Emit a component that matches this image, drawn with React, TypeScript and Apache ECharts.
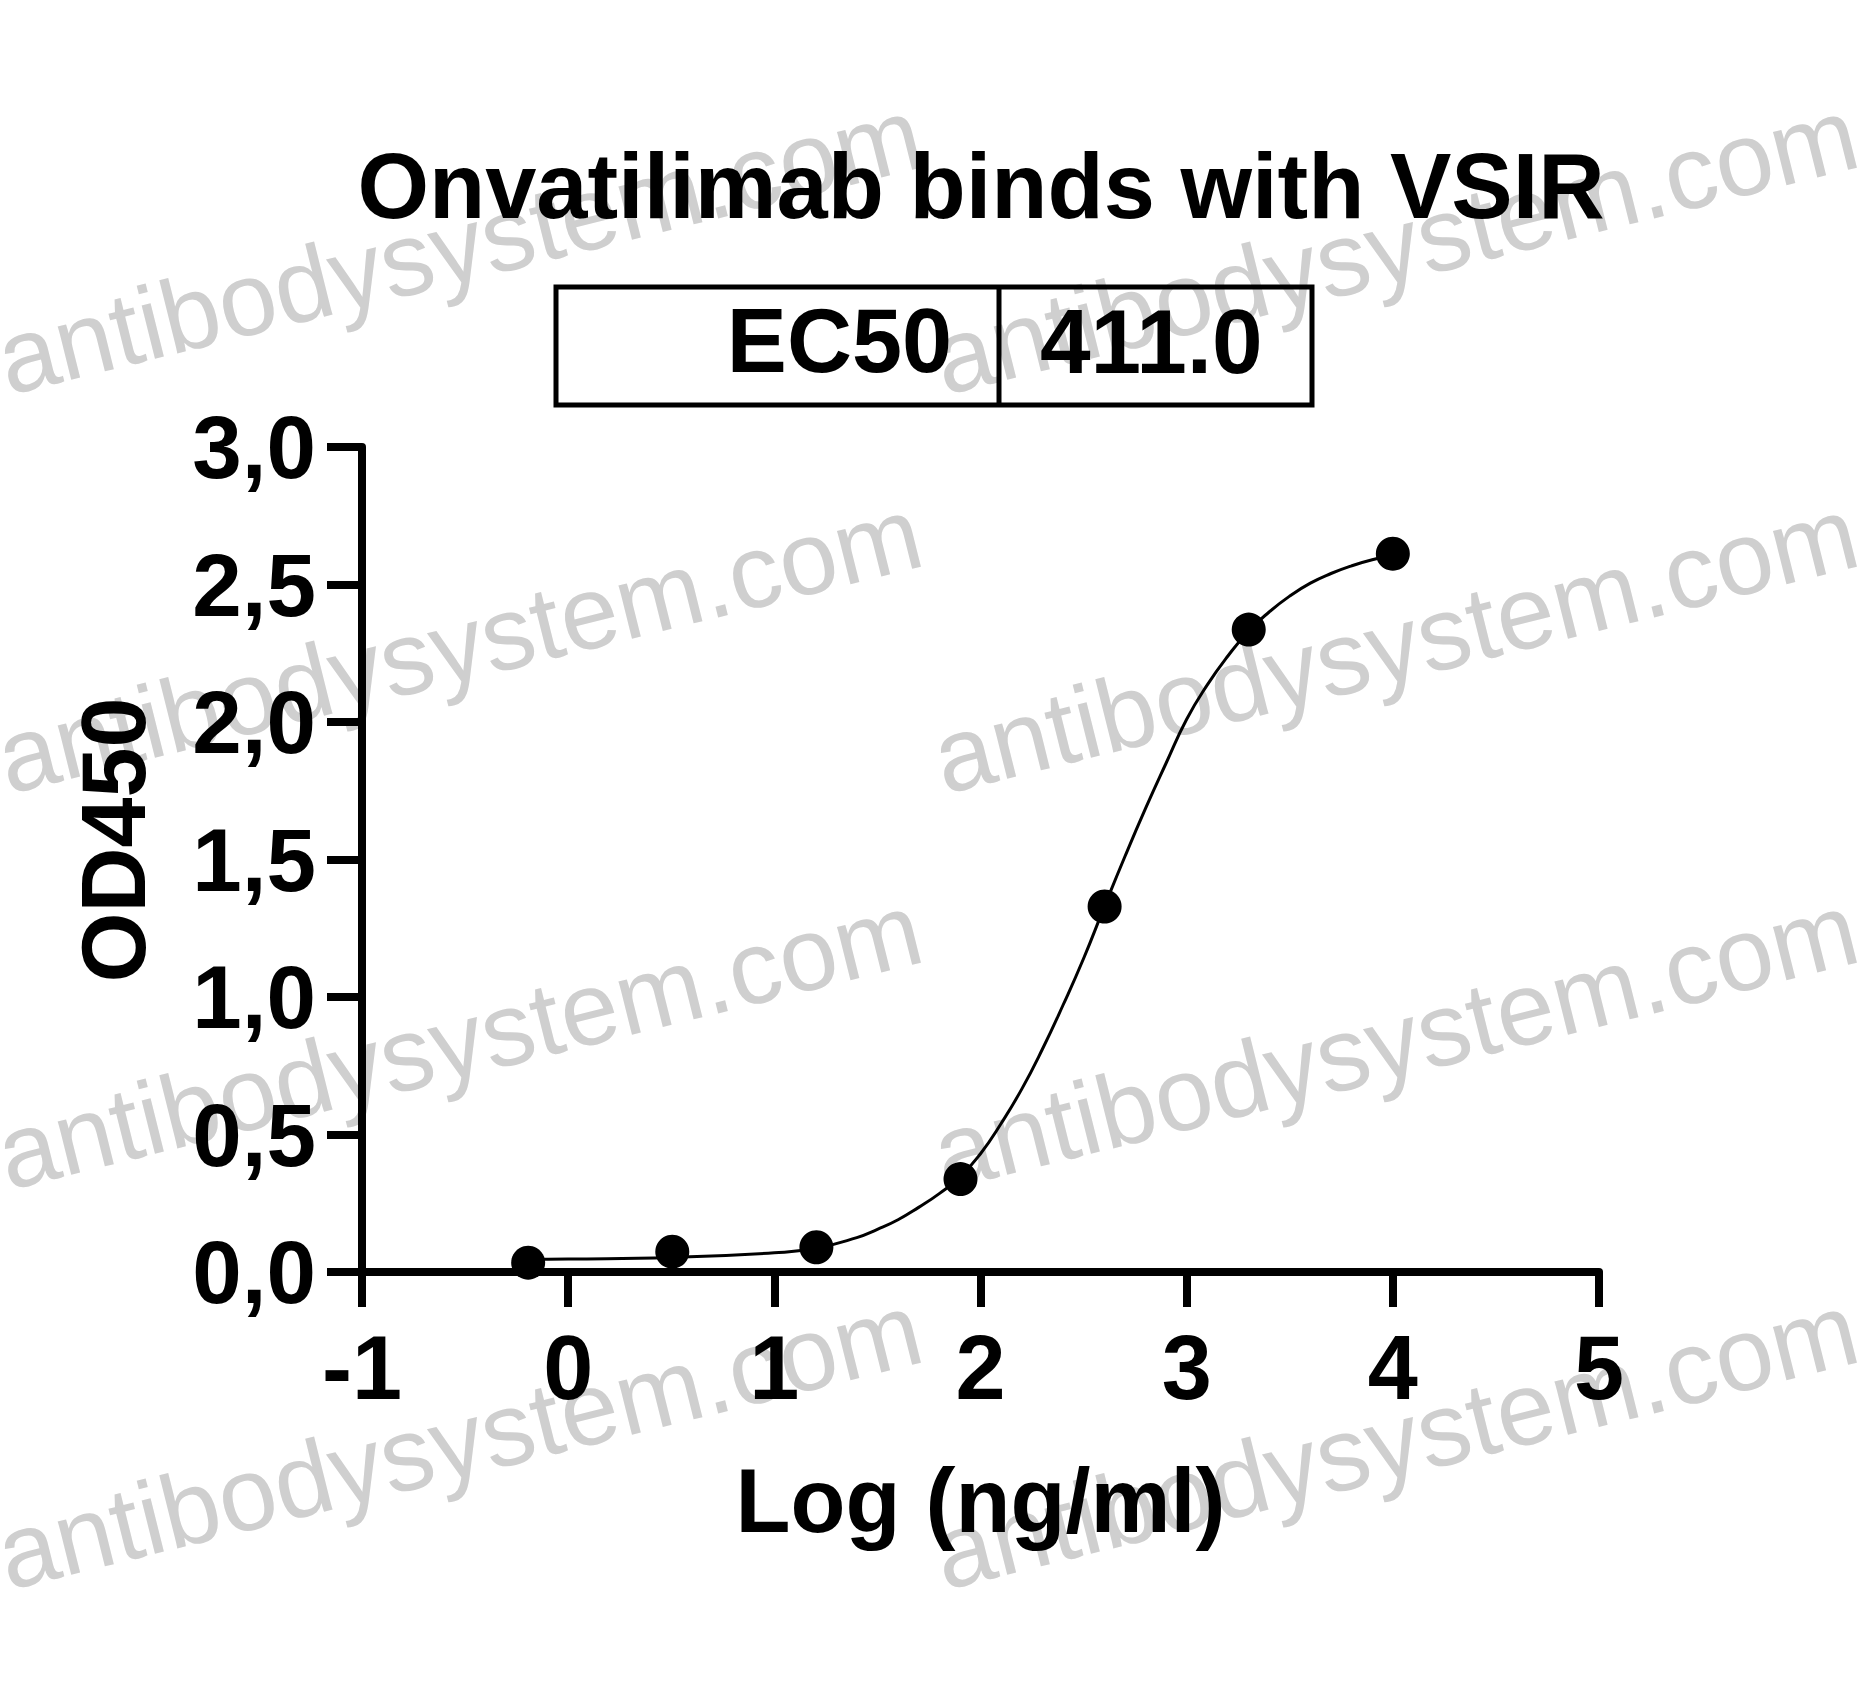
import React, { useEffect, useRef } from "react";
import * as echarts from "echarts";

const chartTitle = "Onvatilimab binds with VSIR";
const xAxisTitle = "Log (ng/ml)";
const yAxisTitle = "OD450";
const ec50Label = "EC50";
const ec50Value = "411.0";

// measured points (log concentration, OD450)
const dataX = [-0.194, 0.505, 1.204, 1.903, 2.602, 3.301, 4.0];
const dataY = [0.034, 0.074, 0.09, 0.338, 1.329, 2.336, 2.612];

// fitted curve
const curveX = [-0.194, 0, 0.5, 1.0, 1.2, 1.4, 1.5, 1.6, 1.7, 1.8, 1.9, 2.0, 2.1, 2.2, 2.3, 2.4, 2.5, 2.6, 2.7, 2.8, 2.9, 3.0, 3.1, 3.2, 3.3, 3.4, 3.5, 3.6, 3.7, 3.8, 3.9, 4.0];
const curveY = [0.046, 0.047, 0.053, 0.07, 0.086, 0.125, 0.155, 0.19, 0.235, 0.285, 0.345, 0.43, 0.54, 0.665, 0.81, 0.97, 1.14, 1.327, 1.51, 1.685, 1.85, 2.01, 2.135, 2.24, 2.33, 2.40, 2.458, 2.505, 2.54, 2.568, 2.59, 2.606];

const watermarkText = "antibodysystem.com";
const FONT = "'Liberation Sans', Arial, Helvetica, sans-serif";

export default function App() {
  const ref = useRef<HTMLDivElement>(null);
  useEffect(() => {
    if (!ref.current) return;
    const chart = echarts.init(ref.current, null, { renderer: "svg" });

    const wmCols = [12, 948];
    const wmRows = [411, 810, 1206, 1606];
    const watermarks: any[] = [];
    wmRows.forEach((y) =>
      wmCols.forEach((x) =>
        watermarks.push({
          type: "text",
          x,
          y,
          rotation: (14 * Math.PI) / 180,
          z: -10,
          silent: true,
          style: {
            text: watermarkText,
            fill: "#cfcfcf",
            font: `104px ${FONT}`,
            textAlign: "left",
            textVerticalAlign: "bottom",
          },
        })
      )
    );

    const bold = (size: number) => ({ fontFamily: FONT, fontWeight: "bold" as const, fontSize: size, color: "#000" });

    chart.setOption({
      animation: false,
      backgroundColor: "#fff",
      grid: { left: 362, right: 274, top: 447, bottom: 416, containLabel: false },
      xAxis: {
        type: "value",
        min: -1,
        max: 5,
        interval: 1,
        name: xAxisTitle,
        nameLocation: "middle",
        nameGap: 184,
        nameTextStyle: { ...bold(90) },
        axisLine: { show: true, onZero: false, lineStyle: { color: "#000", width: 8 } },
        axisTick: { show: true, length: 35, lineStyle: { color: "#000", width: 8 } },
        axisLabel: { ...bold(90), margin: 51, formatter: (v: number) => String(v) },
        splitLine: { show: false },
      },
      yAxis: {
        type: "value",
        min: 0,
        max: 3,
        interval: 0.5,
        axisLine: { show: true, onZero: false, lineStyle: { color: "#000", width: 8 } },
        axisTick: { show: true, length: 35, lineStyle: { color: "#000", width: 8 } },
        axisLabel: { ...bold(89), margin: 46, formatter: (v: number) => v.toFixed(1).replace(".", ",") },
        splitLine: { show: false },
      },
      series: [
        {
          type: "line",
          data: curveX.map((x, i) => [x, curveY[i]]),
          smooth: 0.5,
          showSymbol: false,
          lineStyle: { color: "#000", width: 3 },
          z: 3,
          silent: true,
        },
        {
          type: "scatter",
          data: dataX.map((x, i) => [x, dataY[i]]),
          symbol: "circle",
          symbolSize: 34,
          itemStyle: { color: "#000", opacity: 1 },
          z: 4,
        },
      ],
      graphic: [
        ...watermarks,
        {
          type: "text",
          x: 981,
          y: 186,
          z: 5,
          style: { text: chartTitle, font: `bold 92px ${FONT}`, fill: "#000", textAlign: "center", textVerticalAlign: "middle" },
        },
        {
          type: "text",
          x: 114,
          y: 840,
          rotation: Math.PI / 2,
          z: 5,
          style: { text: yAxisTitle, font: `bold 90px ${FONT}`, fill: "#000", textAlign: "center", textVerticalAlign: "middle" },
        },
        {
          type: "rect",
          shape: { x: 556, y: 287, width: 756, height: 118 },
          style: { fill: "none", stroke: "#000", lineWidth: 5 },
          z: 5,
        },
        {
          type: "line",
          shape: { x1: 999, y1: 287, x2: 999, y2: 405 },
          style: { stroke: "#000", lineWidth: 5 },
          z: 5,
        },
        {
          type: "text",
          x: 952,
          y: 341,
          z: 5,
          style: { text: ec50Label, font: `bold 90px ${FONT}`, fill: "#000", textAlign: "right", textVerticalAlign: "middle" },
        },
        {
          type: "text",
          x: 1040,
          y: 341,
          z: 5,
          style: { text: ec50Value, font: `bold 91px ${FONT}`, fill: "#000", textAlign: "left", textVerticalAlign: "middle" },
        },
      ],
    });
    return () => chart.dispose();
  }, []);
  return <div ref={ref} style={{ position: "fixed", left: 0, top: 0, width: 1873, height: 1688 }} />;
}
